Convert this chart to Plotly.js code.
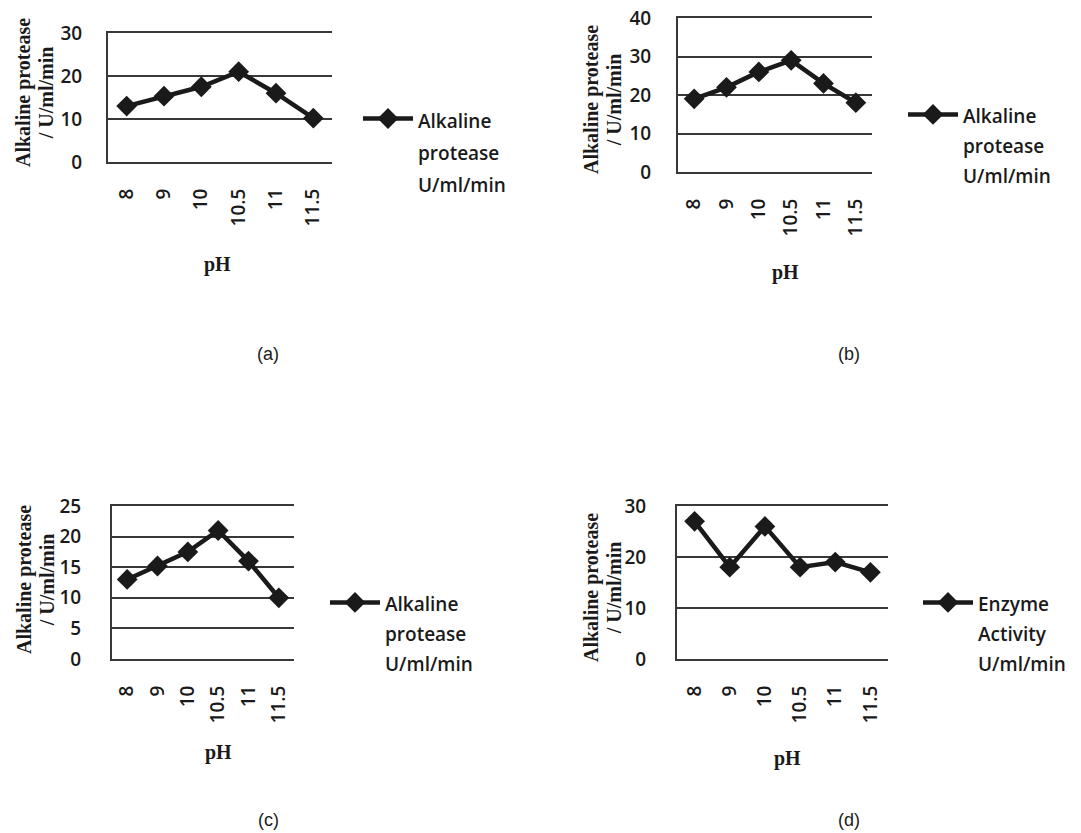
<!DOCTYPE html>
<html>
<head>
<meta charset="utf-8">
<script src="https://cdn.plot.ly/plotly-3.0.1.min.js"></script>
<style>html,body{margin:0;padding:0;background:#fff;}#chart{width:1081px;height:833px;}</style>
</head>
<body>
<div id="chart"></div>
<script>
// ---- data ----
const phLabels = ['8', '9', '10', '10.5', '11', '11.5'];
const activityA = [13, 15.3, 17.5, 21, 16, 10.2];
const activityB = [19, 22, 26, 29, 23, 18];
const activityC = [13, 15.2, 17.5, 21, 16, 10];
const activityD = [27, 18, 26, 18, 19, 17];
const seriesNameA = ['Alkaline', 'protease', 'U/ml/min'];
const seriesNameB = ['Alkaline', 'protease', 'U/ml/min'];
const seriesNameC = ['Alkaline', 'protease', 'U/ml/min'];
const seriesNameD = ['Enzyme', 'Activity', 'U/ml/min'];
const yTitleLines = ['Alkaline protease', '/ U/ml/min'];
const xTitle = 'pH';
const panelLabels = ['(a)', '(b)', '(c)', '(d)'];
const yMax = [30, 40, 25, 30];
const yStep = [10, 10, 5, 10];

// ---- layout helpers ----
const W = 1081, H = 833;
const px = x => x / W;
const py = y => 1 - y / H;
const INK = '#1a1a1a';
const GRID = '#383838';
const SANS = 'Open Sans, Noto Sans, sans-serif';
const SERIF = 'Liberation Serif, Times New Roman, serif';

const legendName = lines => lines.map(l => '<span style="font-size:19px">' + l + '</span>').join('<br>');
const yTitleText = lines => lines.map(l => '<span style="font-size:20px"><b>' + l + '</b></span>').join('<br>');

const panels = [
  {vals: activityA, name: seriesNameA, x0: 108, x1: 332, y0: 33, y1: 162, ystand: 20, xstand: 17,
   leg: [358, 96], legSize: 24.6, ytitle: [34, 93], xt: [217, 265], lab: [268, 354]},
  {vals: activityB, name: seriesNameB, x0: 678, x1: 872, y0: 18, y1: 172, ystand: 21, xstand: 17,
   leg: [903, 93], legSize: 23, ytitle: [603, 100], xt: [785, 273], lab: [849, 354]},
  {vals: activityC, name: seriesNameC, x0: 112, x1: 294, y0: 506, y1: 659, ystand: 25, xstand: 17,
   leg: [325, 581], legSize: 23, ytitle: [35, 580], xt: [218, 752], lab: [268, 820]},
  {vals: activityD, name: seriesNameD, x0: 677, x1: 888, y0: 506, y1: 659, ystand: 25, xstand: 17,
   leg: [918, 581], legSize: 23, ytitle: [602, 588], xt: [787, 758], lab: [849, 820]}
];

const data = [];
const layout = {
  width: W, height: H,
  margin: {l: 0, r: 0, t: 0, b: 0},
  paper_bgcolor: '#fff', plot_bgcolor: '#fff',
  showlegend: true,
  annotations: [],
  font: {family: SANS, color: INK}
};

panels.forEach((p, i) => {
  const n = i === 0 ? '' : String(i + 1);
  const legKey = 'legend' + n;
  data.push({
    type: 'scatter', mode: 'lines+markers',
    x: phLabels, y: p.vals,
    xaxis: 'x' + n, yaxis: 'y' + n,
    name: legendName(p.name),
    legend: legKey,
    line: {color: INK, width: 4.5},
    marker: {symbol: 'diamond', size: 16, color: INK},
    hoverinfo: 'x+y'
  });
  layout['xaxis' + n] = {
    domain: [px(p.x0), px(p.x1)],
    anchor: 'y' + n,
    type: 'category',
    range: [-0.5, 5.5],
    showgrid: false, zeroline: false,
    showline: true, mirror: true, linecolor: GRID, linewidth: 2,
    ticks: '', tickangle: -90,
    ticklabelstandoff: p.xstand,
    tickfont: {family: SANS, size: 19, color: INK, weight: 600},
    fixedrange: true
  };
  layout['yaxis' + n] = {
    domain: [py(p.y1), py(p.y0)],
    anchor: 'x' + n,
    range: [0, yMax[i]],
    dtick: yStep[i], tick0: 0,
    showgrid: true, gridcolor: GRID, gridwidth: 2,
    zeroline: false,
    showline: true, linecolor: GRID, linewidth: 2,
    ticks: '',
    ticklabelstandoff: p.ystand,
    tickfont: {family: SANS, size: 19, color: INK, weight: 600},
    fixedrange: true
  };
  layout[legKey] = {
    x: px(p.leg[0]), y: py(p.leg[1]),
    xanchor: 'left', yanchor: 'top',
    xref: 'paper', yref: 'paper',
    bgcolor: 'rgba(0,0,0,0)',
    font: {family: SANS, size: p.legSize, color: INK, weight: 600},
    itemwidth: 50,
    valign: 'top',
    tracegroupgap: 0
  };
  layout.annotations.push({
    xref: 'paper', yref: 'paper', x: px(p.ytitle[0]), y: py(p.ytitle[1]),
    xanchor: 'center', yanchor: 'middle', textangle: -90, showarrow: false,
    text: yTitleText(yTitleLines),
    font: {family: SERIF, size: 18, color: INK}
  });
  layout.annotations.push({
    xref: 'paper', yref: 'paper', x: px(p.xt[0]), y: py(p.xt[1]),
    xanchor: 'center', yanchor: 'middle', showarrow: false,
    text: '<b>' + xTitle + '</b>',
    font: {family: SERIF, size: 20, color: INK}
  });
  layout.annotations.push({
    xref: 'paper', yref: 'paper', x: px(p.lab[0]), y: py(p.lab[1]),
    xanchor: 'center', yanchor: 'middle', showarrow: false,
    text: panelLabels[i],
    font: {family: 'Liberation Sans Narrow, Liberation Sans, Arial, sans-serif', size: 18, color: INK}
  });
});

Plotly.newPlot('chart', data, layout, {displayModeBar: false, staticPlot: true});
</script>
</body>
</html>
